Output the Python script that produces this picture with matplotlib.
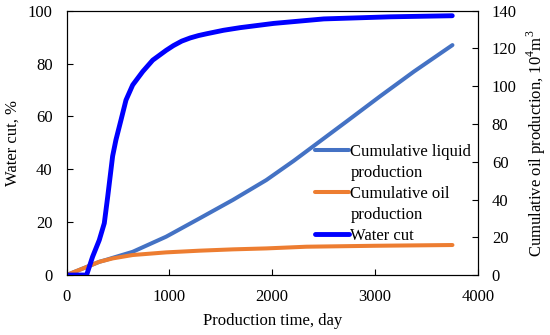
import numpy as np
from matplotlib import pyplot as plt
from matplotlib.lines import Line2D

plt.rcParams['font.family'] = 'Liberation Serif'
plt.rcParams['mathtext.fontset'] = 'custom'
plt.rcParams['mathtext.rm'] = 'Liberation Serif'
plt.rcParams['font.size'] = 12

# water cut, % (left axis)
wc_days = [0, 195, 253, 318, 367, 400, 448, 480, 529, 578, 643, 741, 838, 968, 1039,
           1120, 1202, 1283, 1364, 1526, 1689, 2014, 2501, 3151, 3750]
water_cut = [0, 0, 6.9, 13.2, 19.6, 29.6, 45.0, 51.1, 58.6, 66.2, 71.9, 77.0, 81.3,
             85.0, 86.8, 88.5, 89.7, 90.6, 91.3, 92.6, 93.6, 95.2, 96.9, 97.7, 98.1]

# cumulative production, 10^4 m^3 (right axis)
liq_days = [0, 188, 318, 383, 448, 643, 968, 1293, 1618, 1942, 2209, 2729, 3054, 3378, 3752]
liquid = [0, 4.1, 7.0, 8.0, 9.1, 12.3, 20.3, 30.0, 39.8, 50.3, 60.5, 81.6, 94.9, 107.8, 121.8]

oil_days = [0, 188, 318, 448, 643, 968, 1293, 1618, 1942, 2332, 3000, 3752]
oil = [0, 4.1, 7.0, 8.8, 10.6, 12.0, 12.9, 13.6, 14.1, 15.0, 15.5, 15.9]

fig, ax = plt.subplots(figsize=(5.5, 3.35), dpi=100)
fig.subplots_adjust(left=0.121, right=0.869, top=0.968, bottom=0.179)
ax2 = ax.twinx()

l1, = ax2.plot(liq_days, liquid, color='#4472C4', lw=2.9, solid_capstyle='round',
               solid_joinstyle='round')
l2, = ax2.plot(oil_days, oil, color='#ED7D31', lw=2.9, solid_capstyle='round',
               solid_joinstyle='round')
l3, = ax.plot(wc_days, water_cut, color='#0000FF', lw=3.5, solid_capstyle='round',
              solid_joinstyle='round')
ax.set_zorder(ax2.get_zorder() + 1)
ax.patch.set_visible(False)

ax.set_xlim(0, 4000)
ax.set_ylim(0, 100)
ax2.set_ylim(0, 140)
ax.set_xticks([0, 1000, 2000, 3000, 4000])
ax.set_yticks(range(0, 101, 20))
ax2.set_yticks(range(0, 141, 20))

ax.tick_params(direction='in', length=4, labelsize=12, pad=10)
ax2.tick_params(direction='in', length=4, labelsize=12, pad=10)

ax.set_xlabel('Production time, day', fontsize=12, labelpad=6)
ax.set_ylabel('Water cut, %', fontsize=12, labelpad=5)
ax2.set_ylabel(r'Cumulative oil production, 10$^\mathregular{4}$m$^\mathregular{3}$',
               fontsize=12, labelpad=6)

# legend handles sit on the first line of each label
blank = Line2D([], [], color='none')
ax.legend([l1, blank, l2, blank, l3],
          ['Cumulative liquid', 'production', 'Cumulative oil', 'production', 'Water cut'],
          loc='upper left', bbox_to_anchor=(0.605, 0.495), frameon=False,
          handlelength=2.0, handletextpad=0.1, borderpad=0, borderaxespad=0,
          labelspacing=0.3, fontsize=12)

plt.savefig('out.png', dpi=100)
